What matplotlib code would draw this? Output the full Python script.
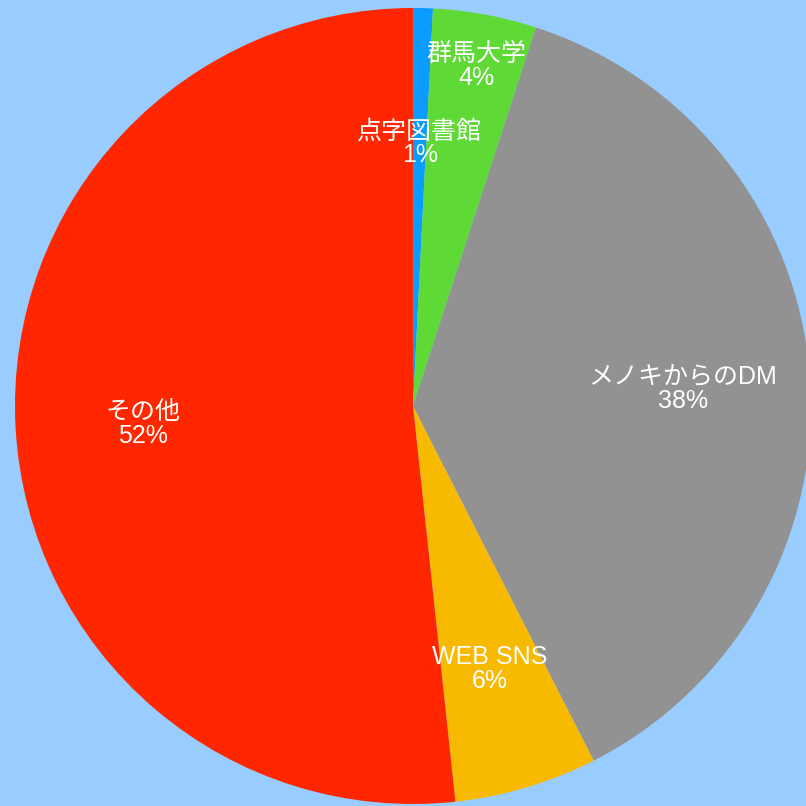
import matplotlib
matplotlib.use("Agg")
import matplotlib.pyplot as plt
import numpy as np

labels = ["点字図書館", "群馬大学", "メノキからのDM", "WEB SNS", "その他"]
values = [0.8, 4.2, 37.5, 5.8, 51.7]
pct_labels = ["1%", "4%", "38%", "6%", "52%"]
colors = ["#0A9CFF", "#5ED936", "#929292", "#F8BA00", "#FF2600"]
label_radius = [0.67, 0.88, 0.68, 0.68, 0.68]

plt.rcParams['font.family'] = ['Liberation Sans', 'Noto Sans CJK JP']

fig = plt.figure(figsize=(8.06, 8.06), dpi=100)
fig.patch.set_facecolor("#99CCFF")
ax = fig.add_axes([0, 0, 1, 1])
ax.set_facecolor("#99CCFF")

wedges, _ = ax.pie(values, colors=colors, startangle=90, counterclock=False,
                   radius=1.0, center=(0, 0), wedgeprops=dict(linewidth=0))

for w, lab, pct, r in zip(wedges, labels, pct_labels, label_radius):
    mid = np.deg2rad((w.theta1 + w.theta2) / 2)
    x, y = r * np.cos(mid), r * np.sin(mid) - 0.01
    ax.text(x, y, f"{lab}\n{pct}", ha="center", va="center", color="white",
            fontsize=18, linespacing=1.0)

s = 398.0
ax.set_xlim(-413 / s, 393 / s)
ax.set_ylim(-400 / s, 406 / s)
ax.set_aspect("equal")
ax.axis("off")

fig.savefig("out.png", dpi=100, facecolor=fig.get_facecolor())
